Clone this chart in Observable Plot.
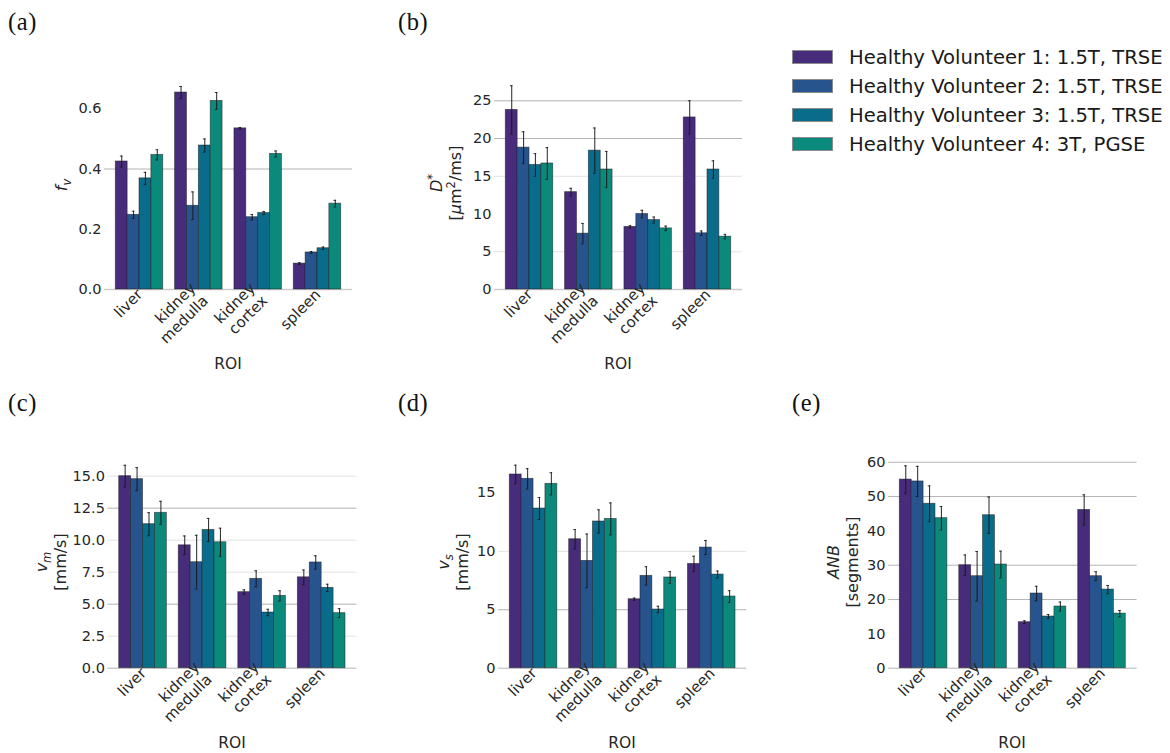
<!DOCTYPE html>
<html>
<head>
<meta charset="utf-8">
<script src="https://cdn.jsdelivr.net/npm/d3@7"></script>
<script src="https://cdn.jsdelivr.net/npm/@observablehq/plot@0.6"></script>
<style>
  body { margin: 0; background: #fff; }
  #fig { position: relative; width: 1170px; height: 753px; overflow: hidden; background: #fff;
         font-family: "DejaVu Sans", sans-serif; color: #262626; }
  .panel { position: absolute; }
  .panel svg { background: transparent !important; overflow: visible; }
  .plabel { position: absolute; font-family: "Liberation Serif", serif; font-size: 24.5px; line-height: 24px;
            letter-spacing: 0.6px; color: #111; }
  .ylab { position: absolute; transform: translate(-50%, -50%) rotate(-90deg); text-align: center;
          font-size: 16px; line-height: 19px; white-space: nowrap; }
  .ylab sub, .ylab sup { font-size: 0.72em; line-height: 0; }
  .xlab { position: absolute; transform: translateX(-50%); font-size: 15.5px; line-height: 16px; }
  .lrow { position: absolute; left: 792px; height: 20px; }
  .sw { position: absolute; left: 0; top: 2.3px; width: 41px; height: 14px; box-sizing: border-box;
        border: 1px solid #8c8c8c; }
  .ltxt { position: absolute; left: 57px; top: 0; font-size: 19.6px; line-height: 20px; white-space: nowrap; color: #1a1a1a; }
</style>
</head>
<body>
<div id="fig"></div>
<script>
// ---------------- data ----------------
const rois = ["liver", "kidney medulla", "kidney cortex", "spleen"];
const roiTickLabels = ["liver", "kidney\nmedulla", "kidney\ncortex", "spleen"];
const volunteers = [
  "Healthy Volunteer 1: 1.5T, TRSE",
  "Healthy Volunteer 2: 1.5T, TRSE",
  "Healthy Volunteer 3: 1.5T, TRSE",
  "Healthy Volunteer 4: 3T, PGSE"
];
const colors = ["#482c7c", "#28548e", "#0a6c8b", "#0b8a7b"];

// rows: ROI (liver, medulla, cortex, spleen); columns: volunteer 1..4
const fvMean = [[0.425, 0.248, 0.369, 0.447], [0.654, 0.278, 0.478, 0.626], [0.535, 0.240, 0.254, 0.450], [0.086, 0.123, 0.137, 0.285]];
const fvErr  = [[0.018, 0.012, 0.020, 0.017], [0.020, 0.046, 0.022, 0.028], [0.003, 0.009, 0.005, 0.010], [0.003, 0.003, 0.004, 0.011]];

const dStarMean = [[23.8, 18.8, 16.5, 16.7], [12.9, 7.4, 18.4, 15.9], [8.3, 10.0, 9.2, 8.1], [22.8, 7.45, 15.9, 7.0]];
const dStarErr  = [[3.2, 2.1, 1.5, 2.1], [0.5, 1.35, 3.0, 2.4], [0.15, 0.5, 0.4, 0.3], [2.2, 0.3, 1.15, 0.3]];

const vmMean = [[15.0, 14.77, 11.25, 12.14], [9.6, 8.28, 10.8, 9.84], [5.94, 6.98, 4.35, 5.65], [7.1, 8.26, 6.28, 4.3]];
const vmErr  = [[0.85, 0.9, 0.9, 0.9], [0.73, 2.1, 0.9, 1.1], [0.18, 0.63, 0.25, 0.4], [0.57, 0.52, 0.28, 0.35]];

const vsMean = [[16.57, 16.2, 13.66, 15.77], [11.03, 9.18, 12.55, 12.77], [5.9, 7.9, 5.02, 7.76], [8.92, 10.32, 8.01, 6.13]];
const vsErr  = [[0.8, 0.87, 0.94, 0.95], [0.83, 2.3, 1.0, 1.37], [0.1, 0.78, 0.28, 0.5], [0.66, 0.6, 0.3, 0.5]];

const anbMean = [[54.95, 54.4, 47.9, 43.7], [30.0, 26.8, 44.56, 30.2], [13.4, 21.75, 15.05, 17.96], [46.1, 26.8, 22.9, 15.9]];
const anbErr  = [[4.0, 4.4, 5.2, 3.4], [3.0, 7.2, 5.3, 3.9], [0.4, 2.1, 0.6, 1.3], [4.4, 1.3, 1.2, 0.9]];

const fvTicks = [0, 0.2, 0.4, 0.6];
const dStarTicks = [0, 5, 10, 15, 20, 25];
const vmTicks = [0, 2.5, 5, 7.5, 10, 12.5, 15];
const vsTicks = [0, 5, 10, 15];
const anbTicks = [0, 10, 20, 30, 40, 50, 60];
const roiTicks = [0, 1, 2, 3];

// ---------------- layout ----------------
const fig = document.getElementById("fig");
const groupWidth = 0.8;                       // seaborn default bar group width
const barWidth = groupWidth / volunteers.length;
const hasAxisMarks = typeof Plot.axisX === "function";

function panel(cfg) {
  const { left, top, width, height, spineL, spineR, y0, pxPerUnit, yMax,
          ticks, fmt, means, errs, strong, faint } = cfg;
  const yTopPx = y0 - yMax * pxPerUnit;
  const rows = [];
  rois.forEach((r, i) => volunteers.forEach((v, k) => rows.push({
    roi: i, vol: volunteers[k], k, mean: means[i][k], err: errs[i][k]
  })));
  const xStart = d => d.roi - groupWidth / 2 + d.k * barWidth;
  const xMid = d => xStart(d) + barWidth / 2;
  const cap = 0.022;
  const xAxisOpts = { ticks: roiTicks, tickFormat: i => roiTickLabels[i], tickRotate: -45, tickSize: 0, tickPadding: 2, label: null };
  const marks = [
    Plot.ruleY(faint, { stroke: "#e2e2e2", strokeWidth: 1 }),
    Plot.ruleY(strong, { stroke: "#b3b3b3", strokeWidth: 1 }),
    Plot.ruleY([0], { stroke: "#cdcdcd", strokeWidth: 1.6 }),
    Plot.rect(rows, { x1: xStart, x2: d => xStart(d) + barWidth, y1: 0, y2: "mean", fill: "vol",
                      stroke: "#1b1b1b", strokeOpacity: 0.6, strokeWidth: 0.8 }),
    Plot.ruleX(rows, { x: xMid, y1: d => d.mean - d.err, y2: d => d.mean + d.err,
                       stroke: "#151515", strokeWidth: 1.1, strokeOpacity: 0.85 }),
    Plot.ruleY(rows, { y: d => d.mean + d.err, x1: d => xMid(d) - cap, x2: d => xMid(d) + cap,
                       stroke: "#151515", strokeWidth: 1, strokeOpacity: 0.85 }),
    Plot.ruleY(rows, { y: d => d.mean - d.err, x1: d => xMid(d) - cap, x2: d => xMid(d) + cap,
                       stroke: "#151515", strokeWidth: 1, strokeOpacity: 0.85 })
  ];
  if (hasAxisMarks) marks.push(Plot.axisX({ ...xAxisOpts, fontSize: 15, lineHeight: 1.17 }));
  const chart = Plot.plot({
    width, height,
    marginLeft: spineL - left,
    marginRight: left + width - spineR,
    marginTop: yTopPx - top,
    marginBottom: top + height - y0,
    style: { fontFamily: "DejaVu Sans, sans-serif", fontSize: "14.5px", color: "#262626", background: "transparent" },
    x: hasAxisMarks ? { domain: [-0.59, rois.length - 1 + 0.59] }
                    : { domain: [-0.59, rois.length - 1 + 0.59], ...xAxisOpts },
    y: { domain: [0, yMax], ticks, tickFormat: fmt, tickSize: 0, tickPadding: 3, label: null },
    color: { domain: volunteers, range: colors },
    marks
  });
  const wrap = document.createElement("div");
  wrap.className = "panel";
  wrap.style.left = left + "px";
  wrap.style.top = top + "px";
  wrap.appendChild(chart);
  fig.appendChild(wrap);
}

function addDiv(cls, html, styles) {
  const d = document.createElement("div");
  d.className = cls;
  d.innerHTML = html;
  Object.assign(d.style, styles);
  fig.appendChild(d);
  return d;
}

const f1 = d3.format(".1f"), f0 = d3.format("d");

panel({ left: 0, top: 40, width: 380, height: 330, spineL: 104, spineR: 352, y0: 289, pxPerUnit: 301.2, yMax: 0.69,
        ticks: fvTicks, fmt: f1, means: fvMean, errs: fvErr, strong: [0.4], faint: [] });
panel({ left: 385, top: 40, width: 380, height: 330, spineL: 494, spineR: 742, y0: 289, pxPerUnit: 7.547, yMax: 28,
        ticks: dStarTicks, fmt: f0, means: dStarMean, errs: dStarErr, strong: [20, 25], faint: [5, 15] });
panel({ left: 0, top: 420, width: 380, height: 333, spineL: 107.4, spineR: 356.3, y0: 667.7, pxPerUnit: 12.8, yMax: 16.5,
        ticks: vmTicks, fmt: f1, means: vmMean, errs: vmErr, strong: [5, 12.5], faint: [2.5, 7.5, 10, 15] });
panel({ left: 385, top: 420, width: 380, height: 333, spineL: 498, spineR: 746.3, y0: 667.7, pxPerUnit: 11.69, yMax: 18,
        ticks: vsTicks, fmt: f0, means: vsMean, errs: vsErr, strong: [5], faint: [10] });
panel({ left: 775, top: 420, width: 395, height: 333, spineL: 888, spineR: 1136.6, y0: 667.7, pxPerUnit: 3.433, yMax: 62,
        ticks: anbTicks, fmt: f0, means: anbMean, errs: anbErr, strong: [20, 30, 50, 60], faint: [] });

// panel letters
[["(a)", 8, 10], ["(b)", 398, 10], ["(c)", 8, 391], ["(d)", 398, 391], ["(e)", 792, 391]]
  .forEach(([t, x, y]) => addDiv("plabel", t, { left: x + "px", top: y + "px" }));

// y-axis labels
addDiv("ylab", "<i>f</i><sub><i>v</i></sub>", { left: "61px", top: "185px" });
addDiv("ylab", "<i>D</i><sup>*</sup><br>[<i>μ</i>m<sup>2</sup>/ms]", { left: "446px", top: "183px" });
addDiv("ylab", "<i>v</i><sub><i>m</i></sub><br>[mm/s]", { left: "51px", top: "562px" });
addDiv("ylab", "<i>v</i><sub><i>s</i></sub><br>[mm/s]", { left: "453px", top: "562px" });
addDiv("ylab", "<i>ANB</i><br>[segments]", { left: "843px", top: "562px" });

// x-axis labels
[[228, 355.7], [618, 355.7], [232, 735], [622, 735], [1012, 735]]
  .forEach(([x, y]) => addDiv("xlab", "ROI", { left: x + "px", top: y + "px" }));

// legend
volunteers.forEach((v, k) => {
  const row = addDiv("lrow", "", { top: (47.7 + 29 * k) + "px" });
  const sw = document.createElement("span");
  sw.className = "sw"; sw.style.background = colors[k];
  const tx = document.createElement("span");
  tx.className = "ltxt"; tx.textContent = v;
  row.appendChild(sw); row.appendChild(tx);
});
</script>
</body>
</html>
